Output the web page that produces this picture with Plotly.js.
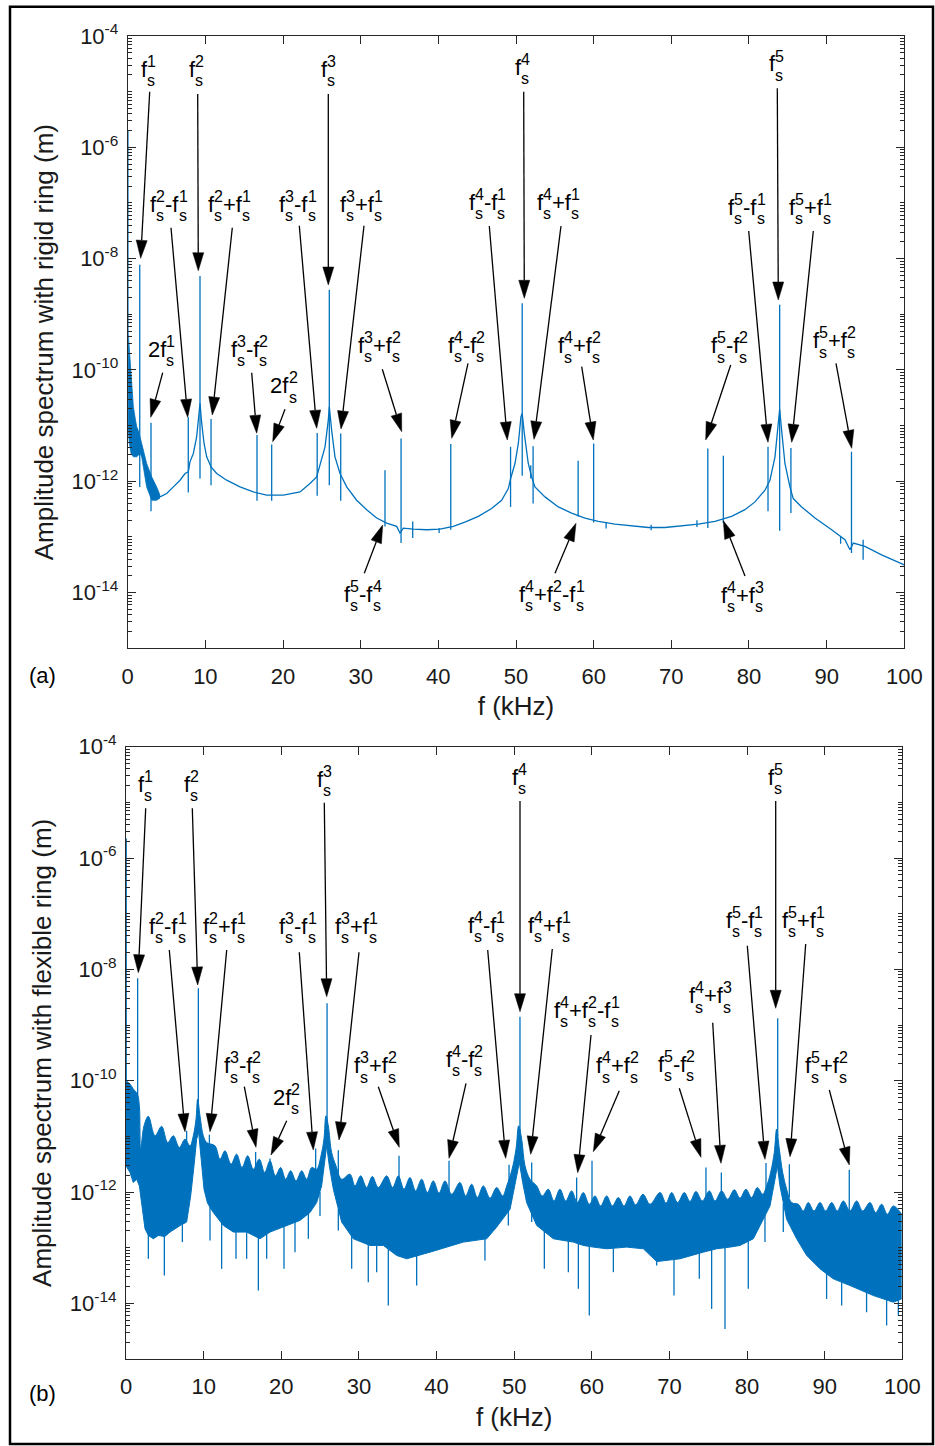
<!DOCTYPE html>
<html><head><meta charset="utf-8">
<script src="https://cdn.plot.ly/plotly-3.0.1.min.js"></script>
<style>body{margin:0;background:#fff}#chart{width:935px;height:1446px}</style>
</head><body><div id="chart"></div>
<script>
// ---------- DATA (frequency kHz, log10 amplitude in m) ----------
const xTicks = [0,10,20,30,40,50,60,70,80,90,100];
const yTickExp = [-4,-6,-8,-10,-12,-14];

// (a) rigid ring: dense low-frequency band, upper and lower edges
const rigidBandUpper = [[0.05,-9.3],[0.2,-9.6],[0.43,-9.9],[0.73,-10.66],[1.0,-10.9],[1.16,-11.02],[1.4,-11.1],[1.6,-11.2],[1.8,-11.32],[2.44,-11.68],[3.09,-11.92],[3.73,-12.10],[4.16,-12.25]];
const rigidBandLower = [[0.05,-11.0],[0.2,-11.3],[0.43,-11.5],[0.73,-11.56],[1.16,-11.56],[1.6,-11.5],[1.8,-11.56],[2.44,-12.10],[3.09,-12.34],[3.73,-12.34],[4.16,-12.3]];
// (a) rigid ring: smooth response curve
const rigidCurve = [[4.16,-12.28],[5.02,-12.22],[5.88,-12.10],[6.74,-11.98],[7.38,-11.86],[7.81,-11.83],[8.02,-11.65],[8.45,-11.50],[8.88,-11.20],[9.14,-10.84],[9.31,-10.6],[9.53,-10.96],[9.83,-11.32],[10.17,-11.56],[10.73,-11.74],[11.46,-11.86],[12.74,-11.98],[14.46,-12.10],[16.18,-12.19],[17.89,-12.25],[20.04,-12.25],[22.19,-12.19],[23.47,-12.04],[24.33,-11.92],[24.76,-11.71],[25.41,-11.38],[25.83,-10.90],[25.96,-10.66],[26.26,-11.08],[26.69,-11.56],[27.34,-11.86],[28.2,-12.10],[29.48,-12.34],[30.77,-12.51],[32.06,-12.66],[33.35,-12.75],[34.63,-12.81],[35.06,-12.93],[35.49,-12.84],[36.78,-12.86],[38.5,-12.87],[40.21,-12.86],[41.93,-12.81],[43.5,-12.73],[45.15,-12.63],[46.86,-12.49],[48.15,-12.34],[49.01,-12.13],[49.31,-11.95],[49.87,-11.68],[50.3,-11.32],[50.64,-10.84],[50.8,-10.78],[51.07,-11.14],[51.58,-11.68],[52.01,-11.92],[52.44,-12.10],[53.73,-12.28],[55.45,-12.46],[57.16,-12.57],[58.88,-12.66],[60.6,-12.72],[62.74,-12.77],[64.89,-12.80],[67.04,-12.83],[69.18,-12.83],[71.33,-12.80],[73.47,-12.77],[75.62,-12.72],[77.76,-12.63],[79.48,-12.51],[80.77,-12.37],[82.06,-12.16],[82.7,-11.98],[83.35,-11.56],[83.69,-11.08],[83.86,-10.72],[83.95,-10.7],[84.2,-11.08],[84.63,-11.68],[85.27,-12.10],[85.7,-12.31],[86.78,-12.46],[88.5,-12.66],[90.64,-12.87],[92.36,-13.05],[93.0,-13.23],[93.43,-13.11],[94.93,-13.17],[97.08,-13.32],[100,-13.50]];
// (a) rigid ring: spectral lines [f, low end, high end]
const rigidLines = [[0.03,-9.3,-5.69],[1.55,-12.1,-8.11],[3.0,-12.54,-10.95],[7.8,-12.2,-10.85],[9.31,-11.95,-8.31],[10.73,-12.07,-10.88],[16.65,-12.35,-11.17],[18.54,-12.35,-11.34],[24.4,-12.26,-11.13],[25.96,-12.07,-8.56],[27.43,-12.35,-11.14],[33.13,-12.81,-11.80],[35.2,-13.11,-11.23],[36.7,-13.02,-12.72],[40.1,-12.93,-12.84],[41.6,-12.87,-11.33],[49.3,-12.46,-11.38],[50.8,-11.9,-8.80],[51.9,-11.95,-11.71],[52.2,-12.40,-11.37],[58.0,-12.63,-11.63],[60.0,-12.74,-11.32],[61.6,-12.85,-12.73],[67.4,-12.88,-12.78],[73.3,-12.82,-12.70],[74.7,-12.84,-11.41],[76.7,-12.75,-11.54],[82.45,-12.54,-11.38],[83.95,-12.89,-8.83],[85.4,-12.57,-11.40],[91.8,-13.12,-13.0],[93.2,-13.29,-11.47],[94.7,-13.41,-13.05]];

// (b) flexible ring: upper and lower edges of the dense spectrum
const flexUpper = [[0.0,-10.0],[0.52,-10.06],[0.94,-10.15],[1.46,-10.24],[1.72,-10.45],[1.89,-11.23],[2.32,-10.81],[2.88,-10.64],[3.74,-10.99],[4.59,-10.82],[5.37,-11.11],[6.1,-10.99],[6.87,-11.20],[7.6,-11.05],[8.24,-11.17],[8.67,-10.99],[9.02,-10.69],[9.23,-10.33],[9.53,-10.63],[9.96,-10.99],[10.39,-11.11],[11.46,-11.17],[12.11,-11.41],[12.75,-11.26],[13.53,-11.50],[14.25,-11.32],[14.94,-11.56],[15.67,-11.35],[16.4,-11.59],[17.17,-11.41],[17.86,-11.65],[18.55,-11.44],[19.24,-11.71],[19.92,-11.56],[20.57,-11.77],[21.21,-11.62],[21.9,-11.80],[22.63,-11.62],[23.27,-11.77],[23.92,-11.56],[24.56,-11.59],[25.12,-11.35],[25.5,-11.05],[25.76,-10.63],[26.06,-10.81],[26.49,-11.29],[27.05,-11.53],[27.78,-11.77],[28.85,-11.68],[29.5,-11.89],[30.23,-11.71],[31.0,-11.92],[31.73,-11.72],[32.5,-11.92],[33.58,-11.71],[34.35,-11.92],[35.08,-11.71],[35.81,-11.95],[36.58,-11.74],[37.31,-11.98],[38.09,-11.77],[38.82,-12.01],[39.59,-11.80],[40.32,-12.02],[41.09,-11.80],[41.95,-12.04],[43.02,-11.83],[43.75,-12.07],[44.53,-11.86],[45.26,-12.10],[46.03,-11.89],[46.89,-12.11],[47.75,-11.92],[48.52,-12.07],[49.04,-11.89],[49.68,-11.62],[50.24,-11.23],[50.58,-10.81],[50.97,-11.05],[51.4,-11.53],[52.04,-11.77],[52.9,-11.89],[53.63,-12.07],[54.4,-11.95],[55.13,-12.16],[55.9,-11.95],[56.64,-12.16],[57.41,-11.98],[58.14,-12.19],[58.91,-12.01],[59.68,-12.22],[60.41,-12.07],[61.14,-12.25],[61.92,-12.07],[62.65,-12.25],[63.42,-12.10],[64.15,-12.25],[64.92,-12.07],[65.65,-12.23],[66.6,-12.04],[67.5,-12.22],[68.79,-12.01],[69.56,-12.20],[70.29,-12.01],[71.06,-12.19],[71.92,-12.01],[72.65,-12.17],[73.42,-11.99],[74.24,-12.16],[75.14,-11.98],[75.87,-12.16],[76.73,-11.98],[77.5,-12.13],[78.36,-11.96],[79.09,-12.11],[79.86,-11.95],[80.59,-12.10],[81.32,-11.92],[82.01,-12.04],[82.53,-11.89],[83.04,-11.65],[83.51,-11.29],[83.81,-10.87],[84.16,-11.23],[84.59,-11.65],[85.1,-11.95],[85.75,-12.19],[86.6,-12.22],[87.25,-12.34],[87.89,-12.19],[88.62,-12.34],[89.4,-12.19],[90.12,-12.34],[90.9,-12.19],[91.63,-12.34],[92.4,-12.16],[93.26,-12.34],[94.12,-12.16],[94.89,-12.34],[95.84,-12.19],[96.57,-12.37],[97.34,-12.22],[98.07,-12.40],[98.84,-12.25],[99.92,-12.40]];
const flexLower = [[0.0,-11.53],[0.52,-11.65],[0.94,-11.83],[1.37,-11.77],[1.72,-11.89],[2.02,-12.25],[2.45,-12.66],[2.88,-12.78],[3.52,-12.84],[4.17,-12.78],[5.0,-12.8],[5.67,-12.72],[6.31,-12.66],[7.0,-12.6],[7.81,-12.54],[8.33,-12.07],[8.76,-11.53],[9.1,-11.05],[9.36,-10.93],[9.62,-11.35],[10.05,-11.95],[10.5,-12.2],[11.25,-12.37],[12.54,-12.6],[13.83,-12.72],[15.54,-12.72],[17.26,-12.84],[18.55,-12.72],[20.7,-12.60],[22.41,-12.51],[23.7,-12.37],[24.56,-12.19],[25.2,-11.89],[25.63,-11.35],[25.85,-11.17],[26.19,-11.53],[26.71,-11.95],[27.78,-12.54],[29.28,-12.84],[31.43,-12.96],[33.15,-12.96],[34.87,-13.14],[36.16,-13.2],[39.16,-13.08],[41.31,-12.99],[43.45,-12.90],[46.46,-12.84],[47.75,-12.63],[49.47,-12.31],[49.89,-12.01],[50.32,-11.65],[50.67,-11.47],[51.1,-11.83],[51.61,-12.19],[52.9,-12.60],[55.05,-12.84],[57.62,-12.90],[58.91,-12.96],[60.2,-12.99],[61.92,-13.02],[64.49,-12.99],[66.64,-13.02],[68.36,-13.25],[71.36,-13.20],[74.37,-13.08],[76.09,-13.02],[77.8,-12.99],[79.09,-12.96],[80.81,-12.84],[81.67,-12.60],[82.96,-12.25],[83.6,-11.77],[83.9,-11.53],[84.24,-11.89],[85.1,-12.49],[86.39,-12.84],[87.68,-13.14],[89.4,-13.38],[91.11,-13.56],[93.26,-13.68],[96.27,-13.86],[98.84,-13.98],[99.92,-13.92]];
// (b) flexible ring: spectral lines rising above the band [f, low, high]
const flexLines = [[0.03,-10.0,-5.65],[1.5,-10.3,-8.16],[7.81,-11.3,-10.9],[9.32,-10.8,-8.34],[10.74,-11.4,-10.97],[16.7,-11.7,-11.28],[18.55,-11.6,-11.40],[24.43,-11.7,-11.22],[25.9,-11.0,-8.61],[27.35,-11.8,-11.25],[35.17,-12.0,-11.35],[41.61,-12.0,-11.44],[49.34,-12.0,-11.51],[50.75,-11.0,-8.85],[52.26,-12.0,-11.47],[58.05,-12.2,-11.74],[60.03,-12.2,-11.44],[74.71,-12.2,-11.56],[76.69,-12.2,-11.65],[82.44,-12.1,-11.48],[83.95,-11.0,-8.88],[85.45,-12.1,-11.50],[93.17,-12.4,-11.60]];
// (b) flexible ring: deep dips below the band [f, high, low]
const flexDips = [[2.88,-12.7,-13.2],[4.94,-12.7,-13.5],[7.26,-12.5,-12.9],[10.82,-12.2,-12.87],[12.32,-12.5,-13.38],[14.17,-12.65,-13.2],[15.54,-12.65,-13.2],[17.05,-12.75,-13.77],[18.12,-12.7,-13.2],[20.35,-12.5,-13.38],[21.77,-12.45,-13.08],[23.49,-12.3,-12.84],[24.99,-12.0,-12.43],[27.35,-12.3,-12.69],[29.07,-12.75,-13.38],[31.21,-12.9,-13.62],[32.29,-12.9,-13.44],[33.79,-12.9,-14.04],[37.44,-13.0,-13.68],[46.24,-12.75,-13.23],[49.25,-12.2,-12.6],[52.26,-12.3,-12.54],[53.89,-12.6,-13.38],[56.98,-12.8,-13.44],[58.27,-12.8,-13.74],[59.68,-12.9,-14.22],[62.78,-12.9,-13.44],[68.36,-13.1,-13.32],[70.59,-13.1,-13.86],[73.85,-13.0,-13.56],[75.44,-13.0,-14.10],[77.16,-12.9,-14.46],[80.16,-12.8,-13.74],[82.31,-12.4,-12.9],[84.67,-12.2,-12.72],[90.25,-13.3,-13.92],[92.19,-13.5,-14.04],[95.4,-13.7,-14.16],[97.98,-13.8,-14.40],[99.49,-13.85,-14.22]];

// ---------- annotation layout (page pixels) ----------
const labelsA = [['f{1}',140,76.7],['f{2}',188,77],['f{3}',320,77],['f{4}',514.3,75],['f{5}',768.3,71.7],
['f{2}-f{1}',149.3,212],['f{2}+f{1}',206.7,212],['f{3}-f{1}',278.3,212],['f{3}+f{1}',339.3,212],
['f{4}-f{1}',468,210],['f{4}+f{1}',536,210],['f{5}-f{1}',727.3,215],['f{5}+f{1}',788.3,215],
['2f{1}',146.7,356.7],['f{3}-f{2}',230,357],['2f{2}',269.3,393.3],['f{3}+f{2}',356.7,353],['f{4}-f{2}',446.7,353],['f{4}+f{2}',556.7,353.3],['f{5}-f{2}',710,353.3],['f{5}+f{2}',811.7,348.3],
['f{5}-f{4}',343.3,601.7],['f{4}+f{2}-f{1}',518.3,601.7],['f{4}+f{3}',720,603.3]];
const arrowsA = [[149.7,91.7,140.7,258.3],[197.7,94,198.3,270.7],[328.3,94,328.3,285],[523.7,91.7,524.3,298.3],[777.3,88.3,778.3,300],
[171,227.7,187.7,417.3],[232.3,227.7,212.3,415],[299.3,225.7,316.7,428.3],[364,225.7,341,429],[489.3,226,507.3,440],[561,226,534,439.3],[748.7,231,768,442.3],[813.3,231,791.7,442.3],
[162.7,372.7,150.7,417.3],[251.7,372.7,256.7,433.3],[285,409.3,272.7,441.7],[382.3,369.3,401.7,431.7],[468,363.3,451.7,438.3],[581.7,366.7,593.3,440],[730.7,365,705.7,440],[836,363.3,851.7,448.3],
[364.3,573.3,382.7,525],[555,573.3,576,523.3],[745,576,723.3,520.7]];
const labelsB = [['f{1}',136.7,791.7],['f{2}',183.3,791.7],['f{3}',316,786.7],['f{4}',511,785],['f{5}',766.7,785],
['f{2}-f{1}',148.3,934],['f{2}+f{1}',201.7,934],['f{3}-f{1}',278.3,934],['f{3}+f{1}',334,934],
['f{4}-f{1}',466.7,933.3],['f{4}+f{1}',527.3,933.3],['f{5}-f{1}',725,928.3],['f{5}+f{1}',780.7,928.3],
['f{4}+f{2}-f{1}',553.3,1018.3],['f{4}+f{3}',688.3,1003.3],
['f{3}-f{2}',222.7,1073.3],['2f{2}',271.7,1105],['f{3}+f{2}',353.3,1073.3],['f{4}-f{2}',445,1066.7],['f{4}+f{2}',595,1073.3],['f{5}-f{2}',656.7,1071.7],['f{5}+f{2}',804,1073.3]];
const arrowsB = [[145.7,808.3,138.3,972.7],[192.3,808.3,197.7,985],[324.3,802.7,326.7,996.7],[520,801,520,1011.7],[775.7,801,775.7,1008.3],
[169.3,950,185,1131.7],[226.7,950,210,1131.7],[299.3,952.3,313.3,1150],[359,952.3,339,1140],[487.7,950,505.7,1158.3],[552.3,949,530.7,1154.3],[747.3,945.7,765,1159.3],[805.7,944,790,1156.7],
[591,1035,577.7,1172.7],[712.7,1022.7,721,1163.3],
[244.3,1086.7,256,1147.3],[286.7,1120.7,271,1155],[378.3,1086.7,399.3,1147.3],[466,1083.3,449,1158.3],[619.3,1090.7,593.3,1151.7],[679.3,1088.3,701,1157.3],[829.3,1090,849.3,1165]];

// ---------- build ----------
const W = 935, H = 1446;
const FONT = 'Liberation Sans, Arial, sans-serif';
const BLUE = '#0072BD';
const AX = '#262626';
const p10 = v => Math.pow(10, v);

function segs(list){
  const x=[], y=[];
  list.forEach(s=>{ x.push(s[0], s[0], null); y.push(p10(s[1]), p10(s[2]), null); });
  return {x, y};
}
const fx = a => a.map(p=>p[0]);
const fy = a => a.map(p=>p10(p[1]));

const traces = [];
// panel (a)
traces.push({x:fx(rigidBandLower), y:fy(rigidBandLower), xaxis:'x', yaxis:'y', mode:'lines', line:{color:BLUE, width:0.8}});
traces.push({x:fx(rigidBandUpper), y:fy(rigidBandUpper), xaxis:'x', yaxis:'y', mode:'lines', fill:'tonexty', fillcolor:BLUE, line:{color:BLUE, width:0.8}});
traces.push({x:fx(rigidCurve), y:fy(rigidCurve), xaxis:'x', yaxis:'y', mode:'lines', line:{color:BLUE, width:1.3}});
const aL = segs(rigidLines);
traces.push({x:aL.x, y:aL.y, xaxis:'x', yaxis:'y', mode:'lines', line:{color:BLUE, width:1.3}});
// panel (b)
traces.push({x:fx(flexLower), y:fy(flexLower), xaxis:'x2', yaxis:'y2', mode:'lines', line:{color:BLUE, width:1}});
traces.push({x:fx(flexUpper), y:fy(flexUpper), xaxis:'x2', yaxis:'y2', mode:'lines', fill:'tonexty', fillcolor:BLUE, line:{color:BLUE, width:1, shape:'spline', smoothing:1}});
const bD = segs(flexDips);
traces.push({x:bD.x, y:bD.y, xaxis:'x2', yaxis:'y2', mode:'lines', line:{color:BLUE, width:1.3}});
const bL = segs(flexLines);
traces.push({x:bL.x, y:bL.y, xaxis:'x2', yaxis:'y2', mode:'lines', line:{color:BLUE, width:1.3}});

// log minor ticks
const minorVals = [];
for(let d=-15; d<=-5; d++){ for(let k=1;k<=9;k++){ if(k===1 && d%2===0) continue; minorVals.push(k*Math.pow(10,d)); } }

function xAxis(domain, anchor){
  return {domain, anchor, range:[0,100], tickmode:'array', tickvals:xTicks, ticktext:xTicks.map(String),
    ticks:'inside', ticklen:8, tickwidth:1, tickcolor:AX, showline:true, linecolor:AX, linewidth:1, mirror:'ticks',
    showgrid:false, zeroline:false, ticklabelstandoff:8, tickfont:{family:FONT, size:22, color:'#1a1a1a'},
    title:{text:'f (kHz)', font:{family:FONT, size:26, color:'#1a1a1a'}, standoff:9}};
}
function yAxis(domain, anchor, title){
  return {domain, anchor, type:'log', range:[-15,-4], tickmode:'array', tickvals:yTickExp.map(p10),
    ticktext:yTickExp.map(e=>'10<sup>'+e+'</sup>'),
    ticks:'inside', ticklen:8, tickwidth:1, tickcolor:AX, showline:true, linecolor:AX, linewidth:1, mirror:'ticks',
    minor:{tickmode:'array', tickvals:minorVals, ticks:'inside', ticklen:4, tickcolor:AX, tickwidth:1, showgrid:false},
    showgrid:false, zeroline:false, ticklabelstandoff:4, tickfont:{family:FONT, size:22, color:'#1a1a1a'},
    title:{text:title, font:{family:FONT, size:26, color:'#1a1a1a'}, standoff:10}};
}

// annotation tokens (stacked super/subscripts)
const EM = {'f':0.278,'s':0.5,'+':0.584,'-':0.333,'0':0.556,'1':0.556,'2':0.556,'3':0.556,'4':0.556,'5':0.556};
const MAIN = 22, SMALL = 16;
const annotations = [];
function addText(text, px, pyCenter, size){
  annotations.push({xref:'paper', yref:'paper', x:px/W, y:1-pyCenter/H, xanchor:'left', yanchor:'middle',
    text, showarrow:false, borderpad:0, font:{family:FONT, size, color:'#000'}});
}
function addLabel(spec){
  const [str, left, base] = spec;
  let cur = left, buf = '', i = 0;
  const flush = ()=>{ if(buf){ addText(buf, cur, base-0.35*MAIN, MAIN); for(const c of buf) cur += EM[c]*MAIN; buf=''; } };
  while(i < str.length){
    const c = str[i];
    if(c === '{'){
      flush();
      const j = str.indexOf('}', i);
      const sup = str.slice(i+1, j);
      addText(sup, cur, base-10-0.35*SMALL, SMALL);
      addText('s', cur, base+9.3-0.35*SMALL, SMALL);
      let wsup = 0; for(const ch of sup) wsup += EM[ch];
      cur += Math.max(wsup, EM.s)*SMALL;
      i = j+1;
    } else { buf += c; i++; }
  }
  flush();
}
labelsA.forEach(addLabel);
labelsB.forEach(addLabel);

annotations.push({xref:'paper', yref:'paper', x:42/W, y:1-675/H, xanchor:'center', yanchor:'middle', text:'(a)', showarrow:false, font:{family:FONT, size:22, color:'#000'}});
annotations.push({xref:'paper', yref:'paper', x:42/W, y:1-1393/H, xanchor:'center', yanchor:'middle', text:'(b)', showarrow:false, font:{family:FONT, size:22, color:'#000'}});

// arrows as shapes
const shapes = [];
function addArrow(a){
  const [tx, ty, hx, hy] = a;
  const dx = hx-tx, dy = hy-ty, L = Math.hypot(dx, dy);
  const ux = dx/L, uy = dy/L, nx = -uy, ny = ux;
  const len = 18, half = 5.5;
  const bx = hx-ux*len, by = hy-uy*len;
  const P = (x,y)=> (x/W).toFixed(5)+','+(1-y/H).toFixed(5);
  shapes.push({type:'line', xref:'paper', yref:'paper', x0:tx/W, y0:1-ty/H, x1:bx/W, y1:1-by/H, line:{color:'#000', width:1.3}});
  shapes.push({type:'path', xref:'paper', yref:'paper', path:'M'+P(hx,hy)+'L'+P(bx+nx*half,by+ny*half)+'L'+P(bx-nx*half,by-ny*half)+'Z',
    fillcolor:'#000', line:{color:'#000', width:0.5}});
}
arrowsA.forEach(addArrow);
arrowsB.forEach(addArrow);
// outer frame
shapes.push({type:'rect', xref:'paper', yref:'paper', x0:10/W, x1:933/W, y0:1-1444/H, y1:1-6.7/H, line:{color:'#000', width:2.5}, layer:'below'});

const layout = {
  width:W, height:H, margin:{l:0, r:0, t:0, b:0}, showlegend:false,
  paper_bgcolor:'#fff', plot_bgcolor:'#fff',
  xaxis: xAxis([127.7/W, 904.3/W], 'y'),
  yaxis: yAxis([1-648.3/H, 1-36/H], 'x', 'Amplitude spectrum with rigid ring (m)'),
  xaxis2: xAxis([126/W, 902.3/W], 'y2'),
  yaxis2: yAxis([1-1359/H, 1-746.7/H], 'x2', 'Amplitude spectrum with flexible ring (m)'),
  annotations, shapes
};
Plotly.newPlot('chart', traces, layout, {staticPlot:true, displayModeBar:false});
</script></body></html>
